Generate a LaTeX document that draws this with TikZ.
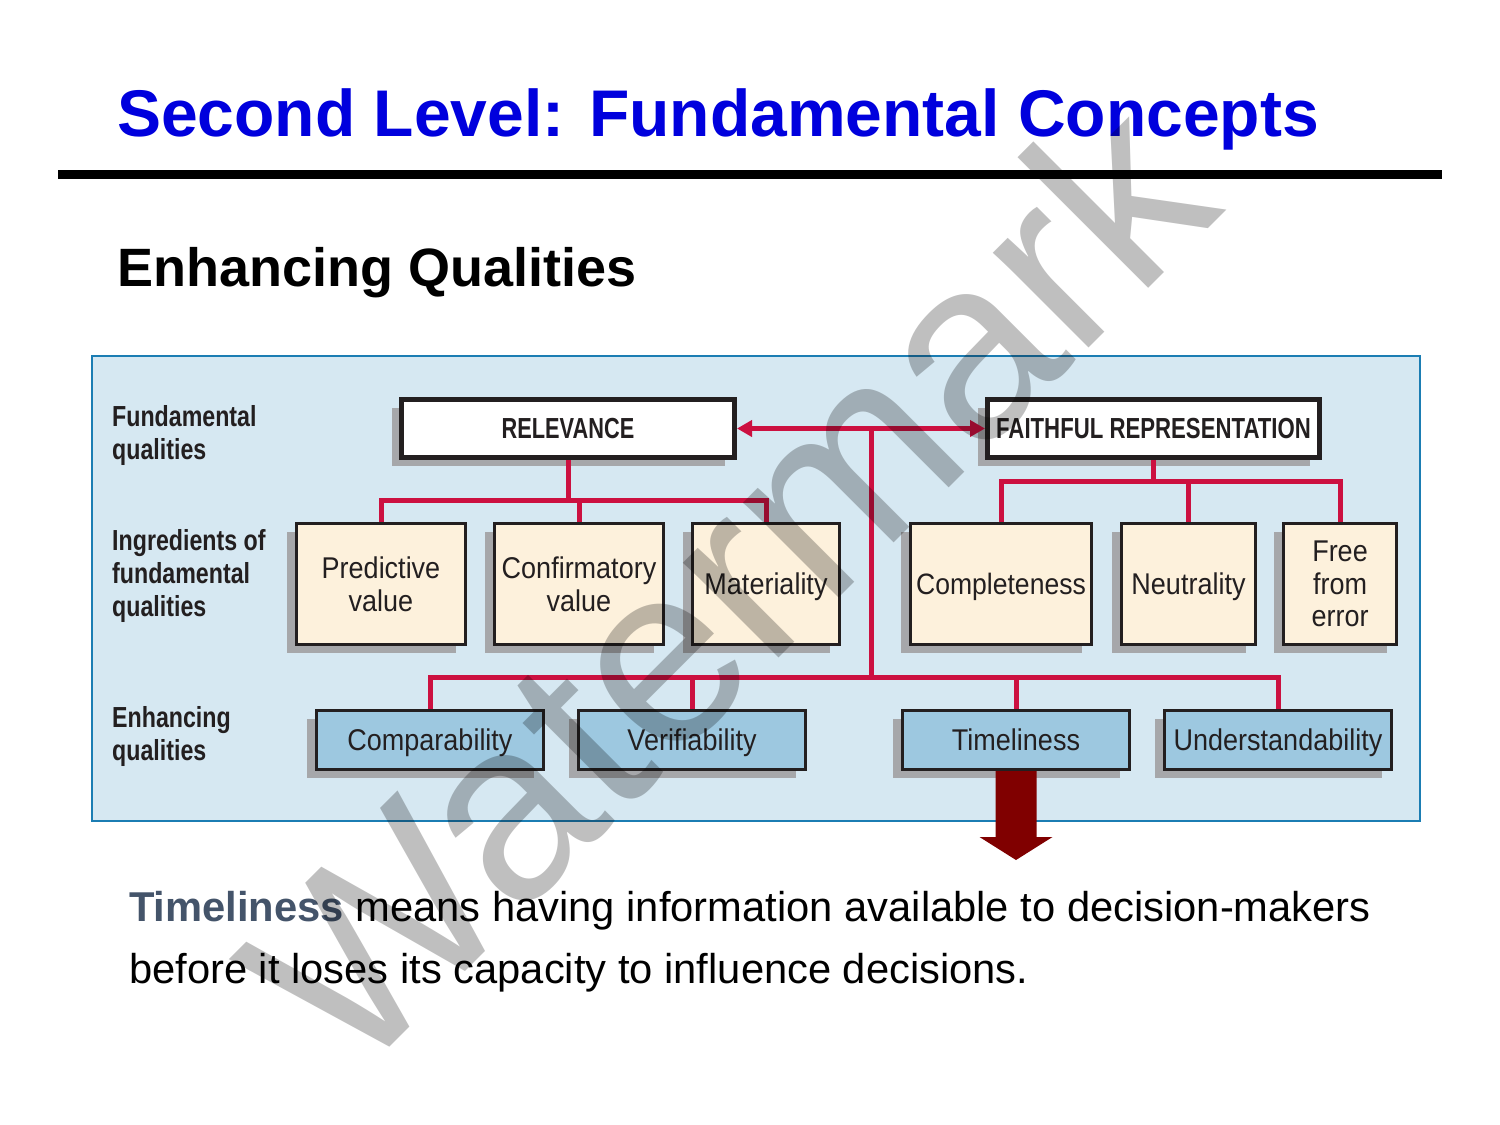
\documentclass[tikz,border=0pt]{standalone}
\usepackage{fontspec}
\setmainfont{Liberation Sans}
\newfontfamily\condfont[FakeStretch=0.90]{Liberation Sans}
\newfontfamily\condlab[FakeStretch=0.80]{Liberation Sans}
\newfontfamily\condcaps[FakeStretch=0.75]{Liberation Sans}
\newfontfamily\condcapsw[FakeStretch=0.765]{Liberation Sans}
\usetikzlibrary{arrows.meta,calc,shadows}
\definecolor{titleblue}{RGB}{0,0,221}
\definecolor{framefill}{RGB}{214,232,242}
\definecolor{frameline}{RGB}{27,125,179}
\definecolor{creamfill}{RGB}{253,241,220}
\definecolor{bluefill}{RGB}{157,200,224}
\definecolor{shadowgray}{RGB}{166,167,170}
\definecolor{linered}{RGB}{204,16,64}
\definecolor{arrowred}{RGB}{128,0,0}
\definecolor{inkdark}{RGB}{35,31,32}
\definecolor{slate}{RGB}{68,84,106}
\tikzset{
  shadowed/.style={general shadow={fill=shadowgray, shadow xshift=-10pt, shadow yshift=-8pt}},
  topbox/.style={shadowed, draw=inkdark, fill=white, line width=5pt, minimum height=58pt, inner sep=0pt,
     font=\condcaps\bfseries\fontsize{29}{32}\selectfont, text=inkdark},
  ingbox/.style={shadowed, draw=inkdark, fill=creamfill, line width=3pt, minimum height=121pt, inner sep=0pt,
     align=center, text depth=0pt, font=\condfont\fontsize{30}{32.5}\selectfont, text=inkdark},
  enhbox/.style={shadowed, draw=inkdark, fill=bluefill, line width=3pt, minimum height=59pt, minimum width=227pt, inner sep=0pt,
     text depth=0pt, font=\condfont\fontsize{30}{32}\selectfont, text=inkdark},
  rowlabel/.style={anchor=west, align=left, inner sep=0pt, text=inkdark, font=\condlab\bfseries\fontsize{29}{33}\selectfont},
  redline/.style={draw=linered, line width=5pt, line join=miter},
  redtip/.tip={Triangle[length=15pt,width=16pt]}
}
\begin{document}
\begin{tikzpicture}[x=1pt,y=-1pt]
\useasboundingbox (0,0) rectangle (1500,1125);
\fill[white] (0,0) rectangle (1500,1125);

% title and rule
\node[anchor=base west, inner sep=0pt, text=titleblue, font=\bfseries\fontsize{66}{70}\selectfont] (title) at (117,136) {Second Level: Fundamental Concepts};
\fill[black] (58,170) rectangle (1442,179);
\node[anchor=base west, inner sep=0pt, text=black, font=\bfseries\fontsize{54}{58}\selectfont] (subtitle) at (117,286) {Enhancing Qualities};

% frame
\path[fill=framefill, draw=frameline, line width=2pt] (92,356) rectangle (1420,821);

% row labels
\node[rowlabel] (lab1) at (112,435.5) {Fundamental\\qualities};
\node[rowlabel] (lab2) at (112,576) {Ingredients of\\fundamental\\qualities};
\node[rowlabel] (lab3) at (112,736.5) {Enhancing\\qualities};

% top boxes
\node[topbox, minimum width=333pt] (rel) at (568,428.5) {RELEVANCE};
\node[topbox, minimum width=332pt, font=\condcapsw\bfseries\fontsize{29}{32}\selectfont] (fr) at (1153.5,428.5) {FAITHFUL REPRESENTATION};

% ingredient boxes
\node[ingbox, minimum width=169pt] (pv) at (381,584) {Predictive\\value};
\node[ingbox, minimum width=169pt] (cv) at (579,584) {Confirmatory\\value};
\node[ingbox, minimum width=147pt] (mat) at (766,584) {Materiality};
\node[ingbox, minimum width=181pt, font=\condfont\fontsize{29.5}{32.5}\selectfont] (comp) at (1001,584) {Completeness};
\node[ingbox, minimum width=134pt] (neu) at (1188.5,584) {Neutrality};
\node[ingbox, minimum width=113pt] (free) at (1340,584) {Free\\from\\error};

% enhancing boxes
\node[enhbox] (cmp) at (430,740) {Comparability};
\node[enhbox] (ver) at (692,740) {Verifiability};
\node[enhbox] (tim) at (1016,740) {Timeliness};
\node[enhbox] (und) at (1278,740) {Understandability};

% connectors
\coordinate (relbar) at (568,500);
\coordinate (frbar) at (1153.5,481);
\coordinate (hub) at (871,428.5);
\coordinate (ebar) at (871,677);

\draw[redline] (rel.south) -- (relbar);
\draw[redline] (pv.north) -- (pv.north |- relbar) -- (mat.north |- relbar) -- (mat.north);
\draw[redline] (cv.north) -- (cv.north |- relbar);

\draw[redline] (fr.south) -- (frbar);
\draw[redline] (comp.north) -- (comp.north |- frbar) -- (free.north |- frbar) -- (free.north);
\draw[redline] (neu.north) -- (neu.north |- frbar);

\draw[redline, {redtip}-{redtip}] (rel.east) -- (fr.west);
\draw[redline] (hub) -- (ebar);
\draw[redline] (cmp.north) -- (cmp.north |- ebar) -- (und.north |- ebar) -- (und.north);
\draw[redline] (ver.north) -- (ver.north |- ebar);
\draw[redline] (tim.north) -- (tim.north |- ebar);

% big arrow below Timeliness
\fill[arrowred] ($(tim.south)+(-20.5,0)$) -- ($(tim.south)+(-20.5,66)$) -- ($(tim.south)+(-36.5,66)$)
  -- ($(tim.south)+(0,89)$) -- ($(tim.south)+(36.5,66)$) -- ($(tim.south)+(20.5,66)$) -- ($(tim.south)+(20.5,0)$) -- cycle;

% explanation
\node[anchor=base west, inner sep=0pt, font=\fontsize{41.7}{62}\selectfont] (txt1) at (129,921) {\textcolor{slate}{\bfseries Timeliness} means having information available to decision-makers};
\node[anchor=base west, inner sep=0pt, font=\fontsize{41.7}{62}\selectfont] (txt2) at (129,983) {before it loses its capacity to influence decisions.};

% watermark
\node[anchor=base west, inner sep=0pt, rotate=45, text=black, text opacity=0.25, font=\fontsize{255}{255}\selectfont] (wm) at (352,1085) {Watermark};
\end{tikzpicture}
\end{document}
